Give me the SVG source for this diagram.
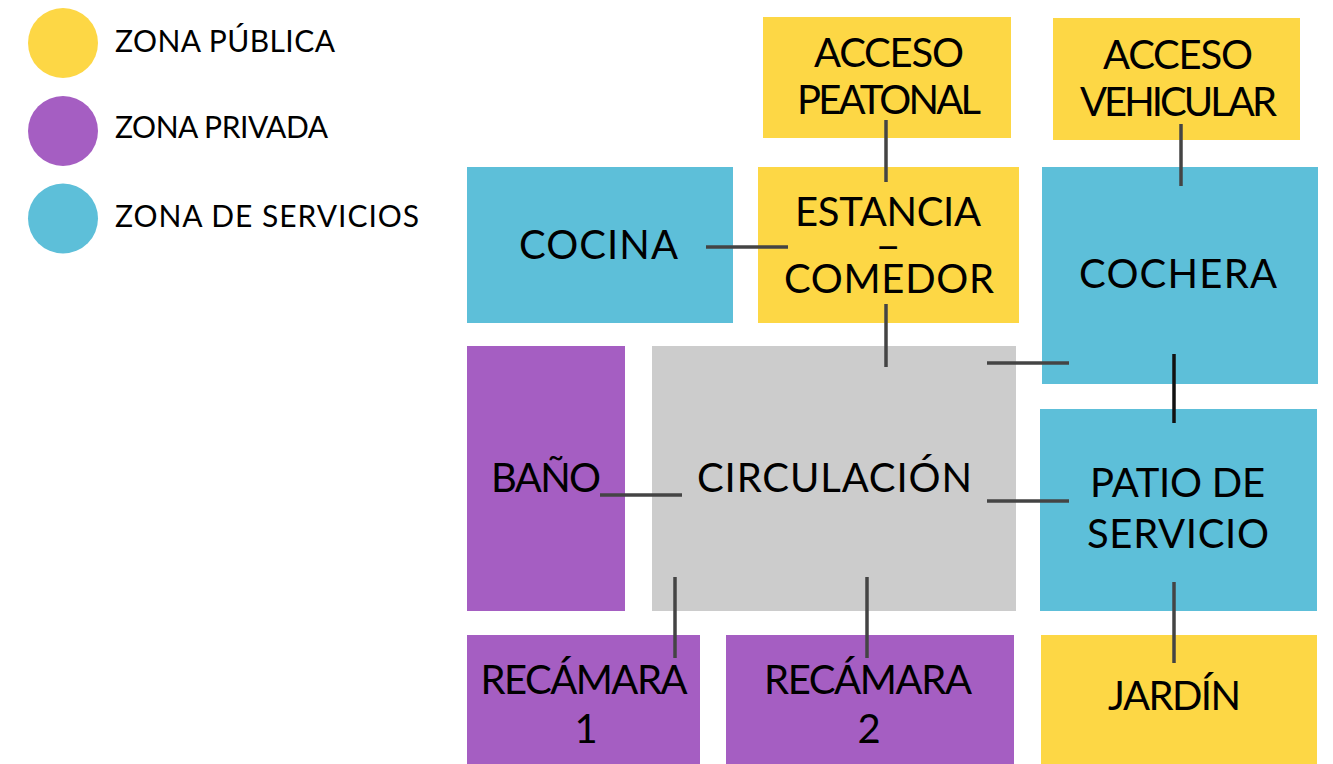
<svg xmlns="http://www.w3.org/2000/svg" width="1333" height="764" viewBox="0 0 1333 764">
<style>
.pub{fill:#FDD745}
.pri{fill:#A55EC2}
.ser{fill:#5DBFD9}
.cir{fill:#CCCCCC}
.lbl{font-family:Lato,"Liberation Sans",sans-serif;font-size:40px;fill:#000;text-anchor:middle}
.leg{font-family:Lato,"Liberation Sans",sans-serif;font-size:30px;fill:#000}
.con{stroke:#444;stroke-width:3.5;fill:none}
</style>
<rect width="1333" height="764" fill="#fff"/>
<g id="legend">
<circle class="pub" cx="63" cy="43" r="35"/>
<text class="leg" x="115" y="52" textLength="220">ZONA PÚBLICA</text>
<circle class="pri" cx="63" cy="131" r="35"/>
<text class="leg" x="115" y="138" textLength="213">ZONA PRIVADA</text>
<circle class="ser" cx="63" cy="218.5" r="35"/>
<text class="leg" x="115" y="227" textLength="304">ZONA DE SERVICIOS</text>
</g>
<g id="acceso-peatonal">
<rect class="pub" x="763" y="17" width="248" height="121"/>
<text class="lbl" x="889" y="67" textLength="150">ACCESO</text>
<text class="lbl" x="889" y="114" textLength="184">PEATONAL</text>
</g>
<g id="acceso-vehicular">
<rect class="pub" x="1053" y="18" width="247" height="122"/>
<text class="lbl" x="1178" y="69" textLength="150">ACCESO</text>
<text class="lbl" x="1178.5" y="116" textLength="197">VEHICULAR</text>
</g>
<g id="cocina">
<rect class="ser" x="467" y="167" width="266" height="156"/>
<text class="lbl" x="598.5" y="259" textLength="159">COCINA</text>
</g>
<g id="estancia-comedor">
<rect class="pub" x="758" y="167" width="261" height="156"/>
<text class="lbl" x="888" y="226" textLength="186">ESTANCIA</text>
<text class="lbl" transform="translate(888 257) scale(1.45 1)" x="0" y="0" style="font-size:30px;font-weight:bold">–</text>
<text class="lbl" x="889" y="293" textLength="210">COMEDOR</text>
</g>
<g id="cochera">
<rect class="ser" x="1042" y="167" width="276" height="217"/>
<text class="lbl" x="1178" y="288" textLength="198">COCHERA</text>
</g>
<g id="bano">
<rect class="pri" x="467" y="346" width="158" height="265"/>
<text class="lbl" x="546" y="492" textLength="110">BAÑO</text>
</g>
<g id="circulacion">
<rect class="cir" x="652" y="346" width="364" height="265"/>
<text class="lbl" x="834.5" y="492" textLength="275">CIRCULACIÓN</text>
</g>
<g id="patio-de-servicio">
<rect class="ser" x="1040" y="409" width="277" height="202"/>
<text class="lbl" x="1177.5" y="497" textLength="175">PATIO DE</text>
<text class="lbl" x="1178" y="548" textLength="182">SERVICIO</text>
</g>
<g id="recamara-1">
<rect class="pri" x="467" y="635" width="233" height="129"/>
<text class="lbl" x="584" y="694" textLength="207">RECÁMARA</text>
<text class="lbl" x="586" y="743">1</text>
</g>
<g id="recamara-2">
<rect class="pri" x="726" y="635" width="288" height="129"/>
<text class="lbl" x="868" y="694" textLength="208">RECÁMARA</text>
<text class="lbl" x="869" y="743">2</text>
</g>
<g id="jardin">
<rect class="pub" x="1041" y="635" width="276" height="129"/>
<text class="lbl" x="1174.5" y="710" textLength="133">JARDÍN</text>
</g>
<g id="connectors">
<path class="con" d="M886 120V182"/>
<path class="con" d="M1181 124V186"/>
<path class="con" d="M706 247H788"/>
<path class="con" d="M886 304V367"/>
<path class="con" d="M987 363H1069"/>
<path class="con" d="M1174 354V423" style="stroke:#111"/>
<path class="con" d="M600 495H682"/>
<path class="con" d="M987 501H1069"/>
<path class="con" d="M675 577V658"/>
<path class="con" d="M867 577V658"/>
<path class="con" d="M1174 582V663"/>
</g>
</svg>
